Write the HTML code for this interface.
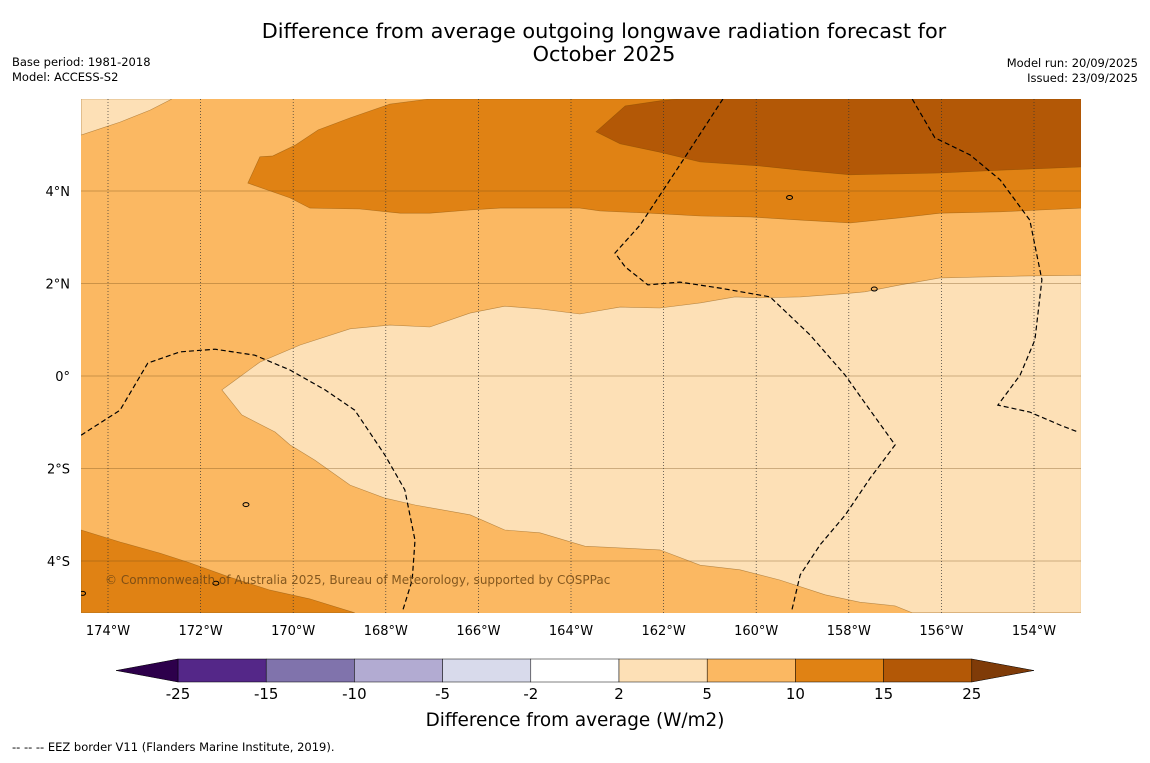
<!DOCTYPE html>
<html><head><meta charset="utf-8">
<style>
body{margin:0;background:#fff;width:1150px;height:758px;overflow:hidden;font-family:"Liberation Sans","DejaVu Sans",sans-serif;}
svg text{font-family:"DejaVu Sans","Liberation Sans",sans-serif;}
</style></head>
<body>
<svg id="chart" width="1150" height="758" viewBox="0 0 1150 758">
<text x="604" y="38" font-size="20.8" text-anchor="middle">Difference from average outgoing longwave radiation forecast for</text>
<text x="604" y="61" font-size="20.8" text-anchor="middle">October 2025</text>
<text x="12" y="66" font-size="11.5">Base period: 1981-2018</text>
<text x="12" y="81" font-size="11.5">Model: ACCESS-S2</text>
<text x="1138" y="67" font-size="11.5" text-anchor="end">Model run: 20/09/2025</text>
<text x="1138" y="82" font-size="11.5" text-anchor="end">Issued: 23/09/2025</text>
<defs><clipPath id="mapclip"><rect x="81" y="99" width="1000" height="514"/></clipPath></defs>
<g id="map" clip-path="url(#mapclip)"></g>
<g id="axes"></g>
<g id="cbar"></g>
<text x="575" y="726" font-size="18.4" text-anchor="middle">Difference from average (W/m2)</text>
<text x="12" y="751" font-size="11.5">--  --  -- EEZ border V11 (Flanders Marine Institute, 2019).</text>
</svg>
<script>
const lonTicks=[-174,-172,-170,-168,-166,-164,-162,-160,-158,-156,-154];
const latTicks=[4,2,0,-2,-4];
const cbarLevels=[-25,-15,-10,-5,-2,2,5,10,15,25];
const cbarColors=["#542788","#8073ac","#b2abd2","#d8daeb","#ffffff","#fde0b6","#fbb862","#e08214","#b35806"];
const lightTopLeft=[[-174.58,5.99],[-172.62,5.99],[-173.09,5.75],[-173.74,5.49],[-174.58,5.21]];
const lightMiddle=[[-152.98,2.18],[-154.30,2.16],[-156.03,2.12],[-156.89,1.97],[-157.65,1.82],[-157.97,1.79],[-159.05,1.71],[-159.92,1.69],[-160.46,1.71],[-161.21,1.58],[-162.08,1.47],[-162.94,1.49],[-163.81,1.34],[-164.67,1.45],[-165.43,1.51],[-166.18,1.36],[-167.05,1.06],[-167.91,1.10],[-168.77,1.02],[-169.85,0.67],[-170.72,0.30],[-171.54,-0.30],[-171.11,-0.84],[-170.39,-1.21],[-170.07,-1.49],[-169.53,-1.82],[-168.77,-2.36],[-168.02,-2.64],[-167.37,-2.79],[-166.18,-3.00],[-165.43,-3.33],[-164.67,-3.39],[-163.70,-3.68],[-162.08,-3.76],[-161.21,-4.09],[-160.35,-4.19],[-159.49,-4.41],[-158.51,-4.73],[-157.76,-4.89],[-157.00,-4.97],[-156.63,-5.12],[-152.98,-5.12]];
const band1015Top=[[-170.98,4.17],[-170.72,4.74],[-170.44,4.76],[-169.96,4.99],[-169.46,5.32],[-168.77,5.58],[-167.91,5.88],[-167.05,5.99],[-152.98,5.99],[-152.98,3.63],[-153.87,3.59],[-154.73,3.55],[-156.03,3.52],[-156.89,3.42],[-157.97,3.31],[-159.05,3.37],[-160.13,3.44],[-161.21,3.46],[-162.29,3.52],[-163.37,3.57],[-163.81,3.63],[-165.53,3.63],[-166.18,3.59],[-167.05,3.52],[-167.69,3.52],[-168.56,3.61],[-169.64,3.63],[-170.07,3.85]];
const band1525Top=[[-163.46,5.28],[-162.83,5.84],[-162.08,5.95],[-161.65,5.99],[-152.98,5.99],[-152.98,4.52],[-154.73,4.45],[-156.03,4.39],[-157.97,4.35],[-159.05,4.45],[-159.92,4.54],[-161.21,4.63],[-162.08,4.84],[-162.94,5.02]];
const band1015Bottom=[[-174.58,-3.33],[-173.74,-3.59],[-172.88,-3.83],[-172.23,-4.04],[-171.37,-4.35],[-170.50,-4.63],[-169.64,-4.82],[-168.67,-5.12],[-174.58,-5.12]];
const eez1=[[-174.58,-1.28],[-173.74,-0.74],[-173.14,0.28],[-172.45,0.52],[-171.69,0.58],[-170.83,0.45],[-170.07,0.13],[-169.31,-0.30],[-168.67,-0.74],[-168.02,-1.71],[-167.59,-2.46],[-167.37,-3.55],[-167.43,-4.41],[-167.63,-5.06]];
const eez2=[[-160.72,5.99],[-161.65,4.56],[-162.51,3.26],[-163.05,2.66],[-162.83,2.36],[-162.34,1.97],[-161.65,2.03],[-160.78,1.90],[-159.70,1.71],[-158.84,0.89],[-158.08,0.02],[-157.54,-0.74],[-157.00,-1.49],[-157.54,-2.21],[-158.08,-3.01],[-158.62,-3.65],[-159.05,-4.30],[-159.23,-5.06]];
const eez3=[[-156.63,5.99],[-156.14,5.15],[-155.38,4.78],[-154.73,4.24],[-154.09,3.37],[-153.83,2.08],[-153.98,0.78],[-154.30,0.02],[-154.78,-0.63],[-154.09,-0.78],[-153.44,-1.06],[-153.05,-1.21]];
const islands=[[-159.28,3.86],[-157.45,1.88],[-171.02,-2.78],[-171.67,-4.48],[-174.55,-4.7]];

const NS="http://www.w3.org/2000/svg";
const X=lon=>108+(lon+174)*46.3;
const Y=lat=>376-lat*46.25;
function mk(tag,attrs,parent){const e=document.createElementNS(NS,tag);for(const k in attrs)e.setAttribute(k,attrs[k]);parent.appendChild(e);return e;}
const map=document.getElementById('map'),axes=document.getElementById('axes'),cbar=document.getElementById('cbar');
const pts=a=>a.map(p=>X(p[0]).toFixed(1)+","+Y(p[1]).toFixed(1)).join(" ");

let bg=mk('rect',{x:81,y:99,width:1000,height:514,fill:cbarColors[6]},map);


const regions=[[lightTopLeft,cbarColors[5],'region-2-to-5-northwest'],[lightMiddle,cbarColors[5],'region-2-to-5-central'],[band1015Top,cbarColors[7],'region-10-to-15-north'],[band1525Top,cbarColors[8],'region-15-to-25-northeast'],[band1015Bottom,cbarColors[7],'region-10-to-15-southwest']];
regions.forEach(r=>{
  const e=mk('polygon',{points:pts(r[0]),fill:r[1],stroke:'rgba(120,70,0,0.5)','stroke-width':0.6},map);
  
  
});
latTicks.forEach(l=>{
  const e=mk('line',{x1:81,x2:1081,y1:Y(l),y2:Y(l),stroke:'rgba(110,70,20,0.45)','stroke-width':0.8},map);
  
  
});
lonTicks.forEach(l=>{
  const e=mk('line',{x1:X(l),x2:X(l),y1:99,y2:613,stroke:'#333','stroke-width':0.7,'stroke-dasharray':'1,2'},map);
  
  
});
[eez1,eez2,eez3].forEach(a=>{
  const e=mk('polyline',{points:pts(a),fill:'none',stroke:'#000','stroke-width':1.2,'stroke-dasharray':'5,3'},map);
  
  
});
islands.forEach(p=>{
  const e=mk('ellipse',{cx:X(p[0]),cy:Y(p[1]),rx:3,ry:2,fill:'none',stroke:'#000','stroke-width':1},map);
  
  
});
let cp=mk('text',{x:105,y:584,'font-size':12,fill:'rgba(110,70,20,0.85)'},map);
cp.textContent="© Commonwealth of Australia 2025, Bureau of Meteorology, supported by COSPPac";



lonTicks.forEach(l=>{
  const t=mk('text',{x:X(l),y:635,'font-size':13,'text-anchor':'middle'},axes);
  t.textContent=Math.abs(l)+"°W";
  
  
});
latTicks.forEach(l=>{
  const t=mk('text',{x:70,y:Y(l)+5,'font-size':13,'text-anchor':'end'},axes);
  t.textContent=l===0?"0°":Math.abs(l)+"°"+(l>0?"N":"S");
  
  
});

const cb0=178,cbw=88.2,cy0=659,cbh=23;
cbarColors.forEach((c,i)=>{
  const r=mk('rect',{x:cb0+i*cbw,y:cy0,width:cbw,height:cbh,fill:c,stroke:'#000','stroke-width':0.5},cbar);
  
  
});
let lt=mk('polygon',{points:`${cb0},${cy0} 116,${cy0+cbh/2} ${cb0},${cy0+cbh}`,fill:'#2d004b',stroke:'#000','stroke-width':0.5},cbar);


const cbEnd=cb0+cbarColors.length*cbw;
let rt=mk('polygon',{points:`${cbEnd},${cy0} 1034,${cy0+cbh/2} ${cbEnd},${cy0+cbh}`,fill:'#7f3b08',stroke:'#000','stroke-width':0.5},cbar);


cbarLevels.forEach((v,i)=>{
  const t=mk('text',{x:cb0+i*cbw,y:699,'font-size':15,'text-anchor':'middle'},cbar);
  t.textContent=v;
  
  
});
</script>
</body></html>
